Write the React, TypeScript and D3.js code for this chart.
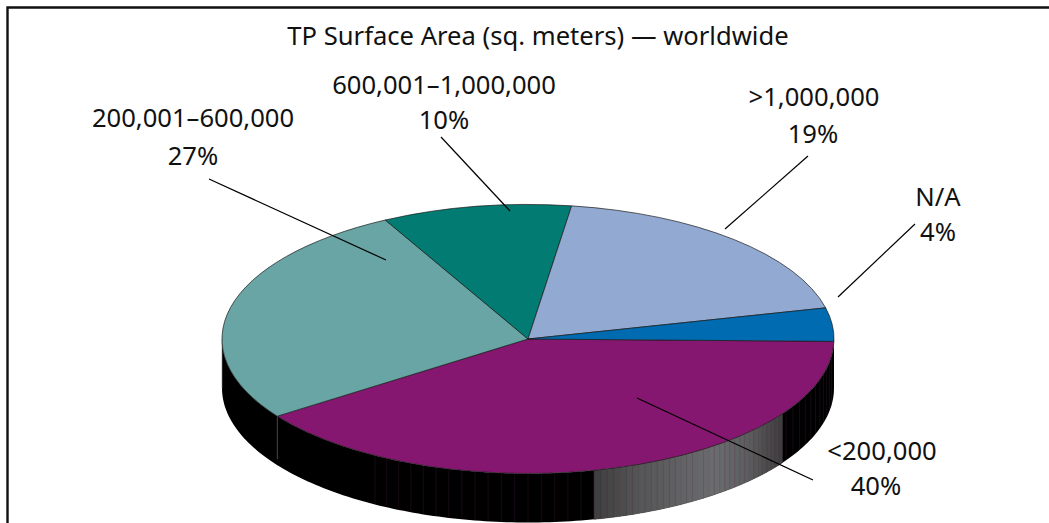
import React from "react";
import * as d3 from "d3";

// Share of facilities by treatment plant surface area
const categories = ["<200,000", "200,001–600,000", "600,001–1,000,000", ">1,000,000", "N/A"];
const shares = [40, 27, 10, 19, 4];
const sliceColors = ["#861770", "#68a5a4", "#027b72", "#92aad2", "#006bb0"];

const WIDTH = 1049;
const HEIGHT = 523;
const cx = 528;
const cy = 339;
const rx = 306;
const ry = 134.5;
const depth = 49;
const FONT = "'Noto Sans', 'Open Sans', sans-serif";
const FONT_SIZE = 25.6;
const START_ANGLE = Math.PI / 2 + (1 * Math.PI) / 180;

const pieLayout = d3
  .pie<number>()
  .sort(null)
  .startAngle(START_ANGLE)
  .endAngle(START_ANGLE + 2 * Math.PI);
const arcs = pieLayout(shares);
const arcShape = d3.arc<d3.PieArcDatum<number>>().innerRadius(0).outerRadius(rx);

// d3 arc angles run clockwise from 12 o'clock
const rimPoint = (a: number, dy = 0): [number, number] => [
  cx + rx * Math.sin(a),
  cy - ry * Math.cos(a) + dy,
];

// Lit band of the wall, keyed by screen x
const LIT_LEFT = 593;
const LIT_RIGHT = 784;
const wallTone = d3
  .scaleLinear<string>()
  .domain([LIT_LEFT, 640, 715, 750, LIT_RIGHT])
  .range(["#3e3e3e", "#565657", "#6b6c6e", "#5c5c5d", "#3c3c3c"])
  .clamp(true);

const FACET = (1.25 * Math.PI) / 180;
const wallStart = Math.PI / 2;
const wallEnd = (3 * Math.PI) / 2;
const facetAngles = d3.range(wallStart, wallEnd, FACET).concat(wallEnd);
const seamAngles = facetAngles.filter((a, i) => {
  const x = rimPoint(a)[0];
  return i % 2 === 0 && i > 0 && x >= 370 && x < cx + rx - 2;
});

const wallPath = (a0: number, a1: number, steps = 4) => {
  const angles = d3.range(0, steps + 1).map((i) => a0 + ((a1 - a0) * i) / steps);
  const pts = [
    ...angles.map((a) => rimPoint(a)),
    ...angles.slice().reverse().map((a) => rimPoint(a, depth)),
  ];
  return d3.line()(pts) + "Z";
};

// Callout lines from each label into its slice
const leaders: [number, number, number, number][] = [
  [637, 398, 813, 480],
  [209, 179, 386, 260],
  [441, 137, 510, 211],
  [808, 156, 725, 229],
  [915, 224, 838, 297],
];

// Label placement: name x, name baseline, percent x, percent baseline
const labelAnchors: [number, number, number, number][] = [
  [882, 460, 876, 495],
  [193, 127, 193, 165],
  [444, 94, 444, 129],
  [814, 106, 813, 143],
  [938, 206, 938, 241],
];

export default function App() {
  return (
    <svg
      width={WIDTH}
      height={HEIGHT}
      viewBox={`0 0 ${WIDTH} ${HEIGHT}`}
      style={{ position: "absolute", left: 0, top: 0, background: "#fff" }}
    >
      <path d={`M7.5 ${HEIGHT}V7.5H${WIDTH}`} fill="none" stroke="#111" strokeWidth={2.4} />

      <text x={538} y={45} textAnchor="middle" fontFamily={FONT} fontSize={FONT_SIZE} fill="#111">
        TP Surface Area (sq. meters) — worldwide
      </text>

      {/* cylinder wall: solid dark shell with a lit band of facets */}
      <g>
        <path d={wallPath(wallStart, wallEnd, 180)} fill="#000" />
        {facetAngles.slice(0, -1).map((a, i) => {
          const b = facetAngles[i + 1];
          const mx = rimPoint((a + b) / 2)[0];
          if (mx < LIT_LEFT || mx > LIT_RIGHT) return null;
          return <path key={i} d={wallPath(a, b)} fill={wallTone(mx)} stroke={wallTone(mx)} strokeWidth={0.5} />;
        })}
        {seamAngles.map((a, i) => {
          const [x0, y0] = rimPoint(a);
          const [, y1] = rimPoint(a, depth);
          return <line key={i} x1={x0} y1={y0} x2={x0} y2={y1} stroke="#7d3a70" strokeOpacity={0.3} strokeWidth={0.6} />;
        })}
        {(() => {
          const [x, y0] = rimPoint(arcs[0].endAngle);
          return <line x1={x} y1={y0} x2={x} y2={y0 + depth - 6} stroke="#777" strokeWidth={0.6} />;
        })()}
        <line x1={cx - rx} y1={cy} x2={cx - rx} y2={cy + depth} stroke="#888" strokeWidth={0.6} />
      </g>

      {/* top face */}
      <g transform={`translate(${cx},${cy}) scale(1,${ry / rx})`}>
        {arcs.map((d, i) => (
          <path
            key={categories[i]}
            d={arcShape(d) ?? ""}
            fill={sliceColors[i]}
            stroke="#1a1a1a"
            strokeWidth={0.7}
            vectorEffect="non-scaling-stroke"
          />
        ))}
      </g>

      {leaders.map(([x1, y1, x2, y2], i) => (
        <line key={i} x1={x1} y1={y1} x2={x2} y2={y2} stroke="#000" strokeWidth={1.2} />
      ))}

      {categories.map((c, i) => {
        const [x0, y0, x1, y1] = labelAnchors[i];
        return (
          <g key={c} fontFamily={FONT} fontSize={FONT_SIZE} fill="#111" textAnchor="middle">
            <text x={x0} y={y0}>{c}</text>
            <text x={x1} y={y1}>{`${shares[i]}%`}</text>
          </g>
        );
      })}
    </svg>
  );
}
